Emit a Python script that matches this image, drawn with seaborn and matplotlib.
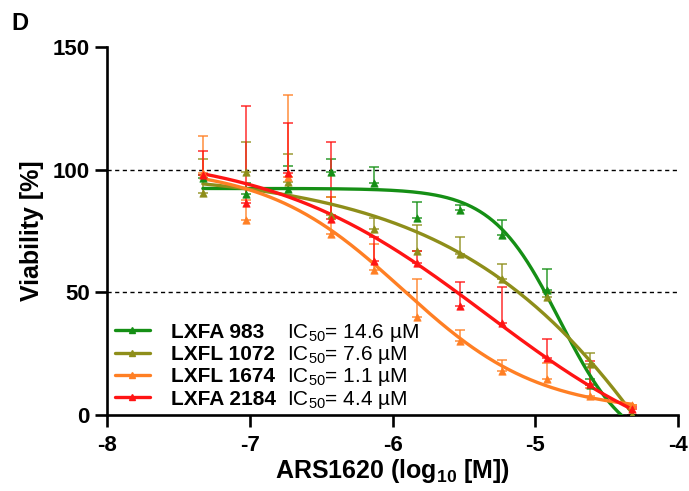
import matplotlib
import numpy as np
import pandas as pd
import seaborn as sns

matplotlib.use("Agg")

import matplotlib.pyplot as plt
from matplotlib.lines import Line2D

# log10 concentration of ARS1620 [M]
log_conc = [-7.33, -7.03, -6.73, -6.43, -6.13, -5.83, -5.53, -5.23, -4.92, -4.62, -4.32]

cell_lines = ["LXFA 983", "LXFL 1072", "LXFL 1674", "LXFA 2184"]
ic50_labels = ["14.6", "7.6", "1.1", "4.4"]
colors = ["#158F15", "#8E8E1A", "#FF7F24", "#FF1414"]

# mean viability [%] and upward error
lxfa983_mean = [96.5, 90.0, 92.0, 99.0, 94.5, 80.5, 83.5, 73.5, 51.0, 12.0, 0.0]
lxfa983_err = [1.5, 4.5, 9.5, 5.5, 6.5, 6.5, 2.0, 5.8, 8.5, 2.5, 0.0]
lxfl1072_mean = [90.5, 99.3, 95.2, 81.4, 76.0, 66.7, 65.4, 55.2, 48.0, 20.5, 0.0]
lxfl1072_err = [13.8, 12.2, 11.2, 7.4, 4.5, 10.9, 7.0, 6.5, 2.0, 4.8, 0.0]
lxfl1674_mean = [98.6, 79.6, 97.0, 73.6, 59.2, 39.8, 30.0, 17.8, 14.4, 7.6, 4.0]
lxfl1674_err = [15.4, 8.0, 33.6, 15.2, 10.6, 15.4, 4.5, 4.4, 6.8, 3.4, 0.0]
lxfa2184_mean = [98.0, 86.4, 98.6, 80.0, 62.6, 62.0, 44.3, 37.2, 23.0, 12.4, 2.2]
lxfa2184_err = [9.7, 39.6, 20.7, 31.5, 10.0, 4.7, 9.9, 14.8, 7.7, 9.5, 1.0]

# fitted 4PL curves: top, bottom, logIC50, hill
fit_top = [92.38, 99.67, 101.48, 107.60]
fit_bottom = [-15.36, -300.0, 0.85, -25.82]
fit_mid = [-4.829, -3.272, -5.931, -5.339]
fit_hill = [1.823, 0.459, 0.908, 0.567]


def four_pl(x, top, bottom, mid, hill):
    return bottom + (top - bottom) / (1 + 10 ** (hill * (x - mid)))


sns.set_style("ticks")
plt.rcParams["font.family"] = ["Liberation Sans", "DejaVu Sans"]
plt.rcParams["mathtext.fontset"] = "custom"
plt.rcParams["mathtext.rm"] = "Liberation Sans"
plt.rcParams["mathtext.bf"] = "Liberation Sans:bold"
plt.rcParams["axes.unicode_minus"] = False
for key in ["text.color", "axes.labelcolor", "axes.edgecolor", "xtick.color", "ytick.color"]:
    plt.rcParams[key] = "black"

fig = plt.figure(figsize=(6.89, 4.91), dpi=100)
ax = fig.add_axes([0.1557, 0.1558, 0.984 - 0.1557, 0.9033 - 0.1558])

means = [lxfa983_mean, lxfl1072_mean, lxfl1674_mean, lxfa2184_mean]
errs = [lxfa983_err, lxfl1072_err, lxfl1674_err, lxfa2184_err]

ax.axhline(100, color="black", lw=1, ls=(0, (3, 2.5)), zorder=1)
ax.axhline(50, color="black", lw=1, ls=(0, (3, 2.5)), zorder=1)

for i, name in enumerate(cell_lines):
    xs = np.linspace(log_conc[0], log_conc[-1], 300)
    curve = pd.DataFrame({
        "x": xs,
        "y": four_pl(xs, fit_top[i], fit_bottom[i], fit_mid[i], fit_hill[i]),
    })
    sns.lineplot(data=curve, x="x", y="y", color=colors[i], lw=2.4, ax=ax, zorder=3)
    ax.errorbar(log_conc, means[i], yerr=[np.zeros(len(errs[i])), errs[i]], fmt="none",
                ecolor=colors[i], elinewidth=1.3, capsize=3.5, capthick=1.3, alpha=0.75, zorder=2)
    sns.scatterplot(x=log_conc, y=means[i], marker="^", color=colors[i], s=28,
                    edgecolor=colors[i], linewidth=0.5, ax=ax, zorder=4)

ax.set_xlim(-8, -4)
ax.set_ylim(0, 150)
ax.set_xticks([-8, -7, -6, -5, -4])
ax.set_yticks([0, 50, 100, 150])
sns.despine(ax=ax)
for s in ["left", "bottom"]:
    ax.spines[s].set_linewidth(1.9)
    ax.spines[s].set_color("black")
ax.tick_params(length=8.5, width=1.9, labelsize=16, color="black", labelcolor="black")
ax.tick_params(axis="y", pad=4)
ax.tick_params(axis="x", pad=6)
for lab in ax.get_xticklabels() + ax.get_yticklabels():
    lab.set_fontweight("bold")
ax.set_xlabel(r"ARS1620 (log$_{\mathbf{10}}$ [M])", fontsize=18, fontweight="bold", labelpad=1)
ax.set_ylabel("Viability [%]", fontsize=18, fontweight="bold", labelpad=6)

# legend: bold cell line names, IC50 values as a second aligned column
handles = [Line2D([], [], color=c, lw=2.4, marker="^", markersize=4) for c in colors]
leg = ax.legend(handles, cell_lines, loc="upper left", bbox_to_anchor=(0.013, 0.25),
                frameon=False, prop={"weight": "bold", "size": 15}, handlelength=1.7,
                handletextpad=1.0, labelspacing=0.16, borderpad=0, borderaxespad=0)

fig.canvas.draw()
renderer = fig.canvas.get_renderer()
for t, ic in zip(leg.get_texts(), ic50_labels):
    bb = t.get_window_extent(renderer)
    _, _, d = renderer.get_text_width_height_descent("lp", t.get_fontproperties(), ismath=False)
    yb = ax.transAxes.inverted().transform((0, bb.y0 + d))[1]
    ax.text(0.3143, yb, r"IC$_{50}$= " + ic + " µM", transform=ax.transAxes, fontsize=15, va="baseline")

fig.text(0.017, 0.975, "D", fontsize=17, fontweight="bold", va="top")

fig.savefig("out.png", dpi=100)
